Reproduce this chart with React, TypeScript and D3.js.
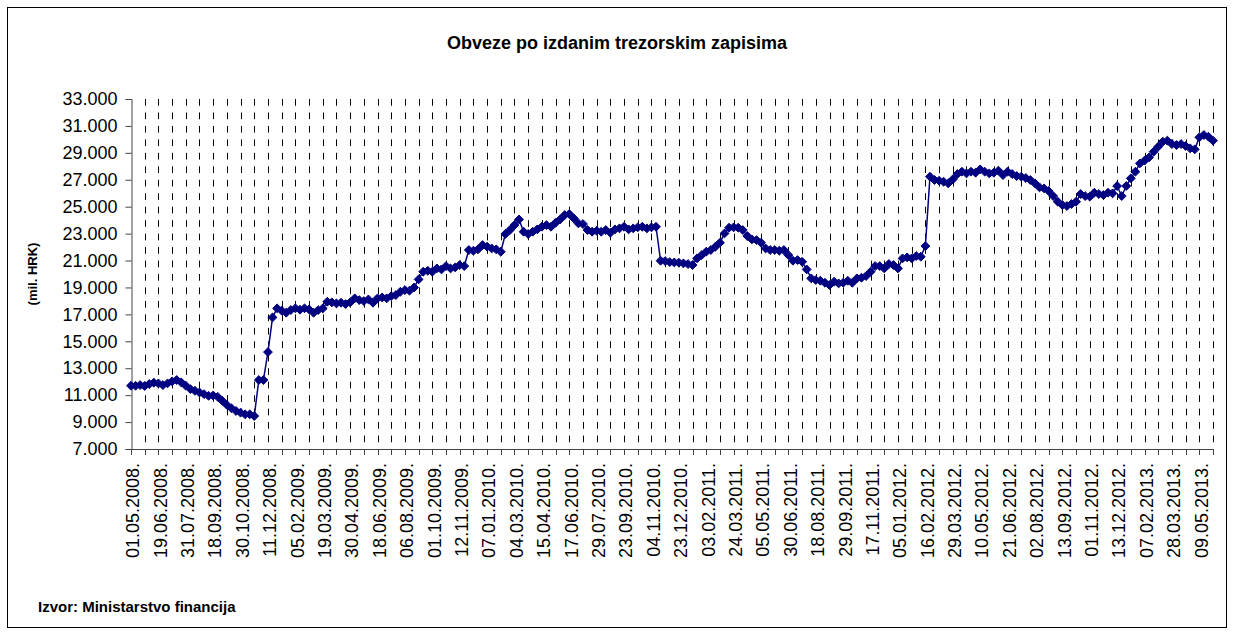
import React, { useEffect, useRef } from 'react'
import * as d3 from 'd3'

// stanje obveza po izdanim trezorskim zapisima (mil. HRK), po aukcijama
const values = [
  11700, 11700, 11750, 11680, 11825, 11925, 11875, 11750, 11875, 12025,
  12125, 11950, 11700, 11450, 11325, 11200, 11075, 10950, 10975, 10875,
  10575, 10275, 10025, 9825, 9700, 9575, 9575, 9450, 12125, 12125,
  14200, 16775, 17450, 17275, 17125, 17325, 17450, 17350, 17450, 17370,
  17120, 17320, 17440, 17940, 17890, 17815, 17865, 17765, 17890, 18190,
  18060, 17990, 18110, 17865, 18190, 18260, 18190, 18360, 18435, 18680,
  18805, 18760, 19000, 19600, 20170, 20240, 20170, 20415, 20340, 20590,
  20415, 20490, 20665, 20590, 21780, 21730, 21830, 22150, 22030, 21900,
  21830, 21650, 22970, 23265, 23635, 24055, 23140, 22970, 23140, 23315,
  23510, 23635, 23510, 23810, 24055, 24380, 24455, 24130, 23760, 23710,
  23265, 23140, 23215, 23140, 23265, 23065, 23315, 23390, 23510, 23315,
  23390, 23465, 23510, 23390, 23465, 23510, 20985, 20960, 20880, 20860,
  20840, 20790, 20740, 20665, 21160, 21405, 21655, 21780, 22025, 22325,
  23015, 23440, 23465, 23440, 23265, 22820, 22570, 22520, 22325, 21900,
  21780, 21780, 21730, 21780, 21405, 20985, 21035, 20910, 20340, 19675,
  19550, 19500, 19350, 19180, 19425, 19300, 19350, 19500, 19350, 19675,
  19725, 19845, 20170, 20590, 20590, 20415, 20740, 20665, 20415, 21160,
  21235, 21160, 21335, 21285, 22075, 27230, 26980, 26930, 26855, 26735,
  27030, 27425, 27600, 27475, 27600, 27525, 27775, 27600, 27475, 27525,
  27675, 27350, 27600, 27425, 27280, 27230, 27130, 26980, 26735, 26435,
  26360, 26165, 25790, 25370, 25125, 25050, 25200, 25370, 25940, 25790,
  25745, 26040, 25940, 25865, 26040, 25990, 26535, 25790, 26535, 27105,
  27600, 28220, 28420, 28665, 29085, 29460, 29830, 29905, 29655, 29580,
  29655, 29510, 29335, 29260, 30150, 30325, 30200, 29905,
]

// oznake datuma na osi x (svaka 6. aukcija)
const tickLabels = [
  '01.05.2008.', '19.06.2008.', '31.07.2008.', '18.09.2008.', '30.10.2008.',
  '11.12.2008.', '05.02.2009.', '19.03.2009.', '30.04.2009.', '18.06.2009.',
  '06.08.2009.', '01.10.2009.', '12.11.2009.', '07.01.2010.', '04.03.2010.',
  '15.04.2010.', '17.06.2010.', '29.07.2010.', '23.09.2010.', '04.11.2010.',
  '23.12.2010.', '03.02.2011.', '24.03.2011.', '05.05.2011.', '30.06.2011.',
  '18.08.2011.', '29.09.2011.', '17.11.2011.', '05.01.2012.', '16.02.2012.',
  '29.03.2012.', '10.05.2012.', '21.06.2012.', '02.08.2012.', '13.09.2012.',
  '01.11.2012.', '13.12.2012.', '07.02.2013.', '28.03.2013.', '09.05.2013.',
]

const yTicks = [7000, 9000, 11000, 13000, 15000, 17000, 19000, 21000, 23000, 25000, 27000, 29000, 31000, 33000]

const labelEvery = 6
const gridEvery = 3

const title = 'Obveze po izdanim trezorskim zapisima'
const yTitle = '(mil. HRK)'
const source = 'Izvor: Ministarstvo financija'

const font = '"Liberation Sans", Arial, sans-serif'
const navy = '#000080'

export default function App() {
  const ref = useRef<SVGSVGElement>(null)

  useEffect(() => {
    const svg = d3.select(ref.current)
    svg.selectAll('*').remove()

    const width = 1234
    const height = 635
    const left = 131, right = 1213, top = 99, bottom = 449

    const x = d3.scaleLinear().domain([0, values.length - 1]).range([left, right])
    const y = d3.scaleLinear().domain([yTicks[0], yTicks[yTicks.length - 1]]).range([bottom, top])

    const hr = d3.formatLocale({ decimal: ',', thousands: '.', grouping: [3], currency: ['', ''] })
    const fmt = hr.format(',.0f')

    // okvir
    svg.append('rect')
      .attr('x', 7.5).attr('y', 7.5)
      .attr('width', width - 15).attr('height', height - 15)
      .attr('fill', 'white').attr('stroke', 'black')

    svg.append('text')
      .attr('x', 617).attr('y', 49)
      .attr('text-anchor', 'middle')
      .style('font-family', font).style('font-size', '18px').style('font-weight', 'bold')
      .text(title)

    // okomite isprekidane linije
    const gridIdx = d3.range(0, values.length, gridEvery)
    const dash = Math.abs(y(yTicks[0]) - y(yTicks[1])) / 4
    svg.append('g')
      .selectAll('line')
      .data(gridIdx.slice(1))
      .enter()
      .append('line')
      .attr('x1', d => Math.round(x(d)) + 0.5).attr('x2', d => Math.round(x(d)) + 0.5)
      .attr('y1', top).attr('y2', bottom)
      .attr('stroke', 'black')
      .attr('stroke-dasharray', dash + ',' + dash)

    // y os
    const yAxis = svg.append('g')
      .attr('transform', 'translate(' + (left + 0.5) + ',0)')
      .call(d3.axisLeft(y).tickValues(yTicks).tickFormat(d => fmt(d as number)).tickSize(6).tickPadding(8))
    yAxis.select('.domain').attr('stroke', '#444')
    yAxis.selectAll('.tick line').attr('stroke', '#444')
    yAxis.selectAll('text')
      .style('font-family', font).style('font-size', '18px').attr('fill', 'black')

    // x os
    svg.append('line')
      .attr('x1', left).attr('x2', right)
      .attr('y1', bottom + 0.5).attr('y2', bottom + 0.5)
      .attr('stroke', '#444')
    svg.append('g')
      .selectAll('line')
      .data(gridIdx)
      .enter()
      .append('line')
      .attr('x1', d => Math.round(x(d)) + 0.5).attr('x2', d => Math.round(x(d)) + 0.5)
      .attr('y1', bottom).attr('y2', bottom + 6)
      .attr('stroke', '#444')

    svg.append('g')
      .selectAll('text')
      .data(tickLabels)
      .enter()
      .append('text')
      .attr('transform', (d, i) => 'translate(' + (x(i * labelEvery) + 2) + ',' + (bottom + 14) + ') rotate(-90)')
      .attr('text-anchor', 'end')
      .attr('dy', '0.35em')
      .style('font-family', font).style('font-size', '18px')
      .text(d => d)

    svg.append('text')
      .attr('transform', 'translate(37,' + ((top + bottom) / 2) + ') rotate(-90)')
      .attr('text-anchor', 'middle')
      .style('font-family', font).style('font-size', '13px').style('font-weight', 'bold')
      .text(yTitle)

    // linija i oznake
    const line = d3.line<number>()
      .x((d, i) => x(i))
      .y(d => y(d))

    svg.append('path')
      .datum(values)
      .attr('d', line)
      .attr('fill', 'none')
      .attr('stroke', navy)
      .attr('stroke-width', 1.5)

    const diamond = d3.symbol().type(d3.symbolDiamond2).size(50)
    svg.append('g')
      .selectAll('path')
      .data(values)
      .enter()
      .append('path')
      .attr('d', diamond)
      .attr('transform', (d, i) => 'translate(' + x(i) + ',' + y(d) + ')')
      .attr('fill', navy)
      .attr('stroke', navy)
      .attr('stroke-width', 1)

    svg.append('text')
      .attr('x', 38).attr('y', 612)
      .style('font-family', font).style('font-size', '15px').style('font-weight', 'bold')
      .text(source)
  }, [])

  return (
    <svg ref={ref} width={1234} height={635} style={{ position: 'absolute', left: 0, top: 0 }} />
  )
}
